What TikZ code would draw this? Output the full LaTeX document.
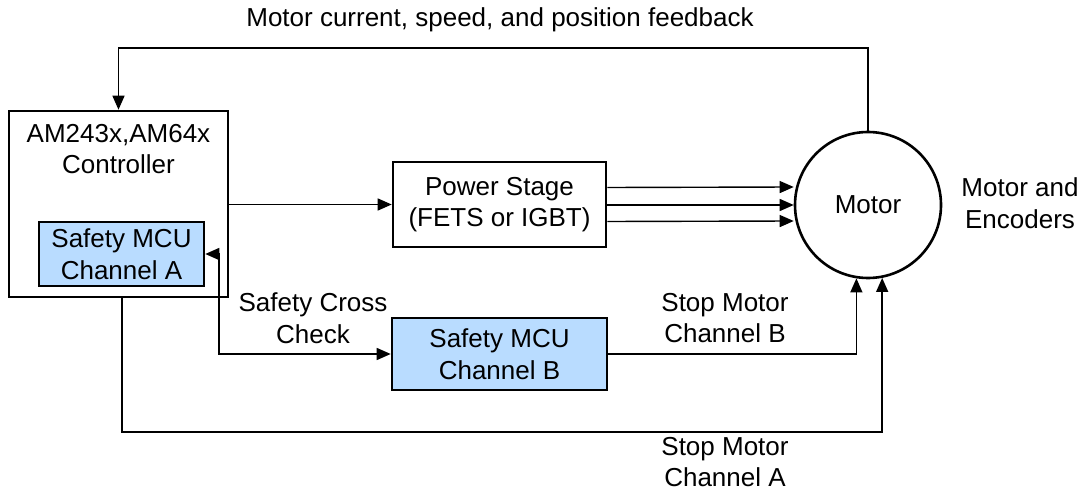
\documentclass[tikz,border=0pt]{standalone}
\usepackage{fontspec}
\setmainfont{Liberation Sans}
\usetikzlibrary{arrows.meta,calc}
\definecolor{mcublue}{RGB}{185,220,255}
\begin{document}
\begin{tikzpicture}[x=1pt,y=-1pt,
  every node/.style={font=\fontsize{26}{31.5}\selectfont, align=center, inner sep=0pt},
  box/.style={draw, line width=2.6pt, rectangle},
  mcu/.style={box, fill=mcublue},
  conn/.style={line width=1.4pt, -{Triangle[length=14pt,width=12pt]}},
  biconn/.style={line width=1.4pt, {Triangle[length=14pt,width=12pt]}-{Triangle[length=14pt,width=12pt]}},
  lbl/.style={}]
\useasboundingbox (0,0) rectangle (1086,494);
% boxes
\node[box, minimum width=219pt, minimum height=186pt] (ctrl) at (118.5,204) {};
\node (ctrltxt) at (118.5,149) {AM243x,AM64x\\Controller};
\node[mcu, minimum width=165pt, minimum height=64pt] (mcuA) at (121.5,254) {Safety MCU\\Channel A};
\node[box, minimum width=213pt, minimum height=85pt] (power) at (499.5,204.5) {Power Stage\\(FETS or IGBT)};
\node[mcu, minimum width=215pt, minimum height=72pt] (mcuB) at (499.5,354) {Safety MCU\\Channel B};
\node[draw, circle, line width=2.6pt, minimum size=146pt] (motor) at (868,205) {Motor};
% labels
\node[lbl] (fblbl) at (500,20) {Motor current, speed, and position feedback};
\node[lbl] (enclbl) at (1020,203) {Motor and\\Encoders};
\node[lbl] (cclbl) at (313,318) {Safety Cross\\Check};
\node[lbl] (stopB) at (725,318) {Stop Motor\\Channel B};
\node[lbl] (stopA) at (725,462) {Stop Motor\\Channel A};
% coordinates
\coordinate (fbc) at (868,48);
\coordinate (cc) at (219,254);
\coordinate (ca) at (122,432);
% connectors
\draw[conn] (motor.north) -- (fbc) -| (ctrl.north);
\draw[conn] (ctrl.east |- power.west) -- (power.west);
\draw[conn] ($(power.east)+(0,-17)$) -- ($(motor.west)+(0,-18)$);
\draw[conn] (power.east |- motor.west) -- (motor.west);
\draw[conn] ($(power.east)+(0,17)$) -- ($(motor.west)+(0,16)$);
\draw[biconn] (mcuA.east) -- (cc) |- (mcuB.west);
\draw[conn] (mcuB.east) -| (motor.-99.5);
\draw[conn] (ctrl.south -| ca) -- (ca) -| (motor.-79);
\end{tikzpicture}
\end{document}
